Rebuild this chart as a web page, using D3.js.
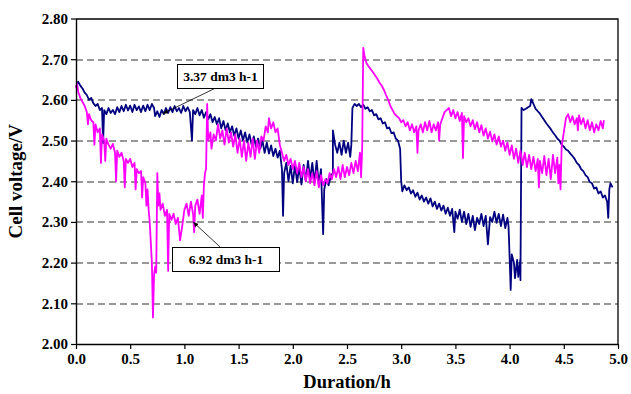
<!DOCTYPE html>
<html lang="en">
<head>
<meta charset="UTF-8">
<title>Cell voltage</title>
<script src="https://cdn.jsdelivr.net/npm/d3@7"></script>
<style>
  body { margin: 0; background: #fff; }
  text { font-family: "Liberation Serif", "Times New Roman", serif; font-weight: bold; }
</style>
</head>
<body>
<script>
// ---- data: [hours, volts] ----
var xTicks = [0, 0.5, 1, 1.5, 2, 2.5, 3, 3.5, 4, 4.5, 5];
var yTicks = [2.0, 2.1, 2.2, 2.3, 2.4, 2.5, 2.6, 2.7, 2.8];

// 3.37 dm3 h-1 (navy)
var lowFlow = [
 [0.00,2.630],[0.02,2.645],[0.04,2.635],[0.06,2.628],[0.08,2.618],[0.10,2.612],[0.12,2.600],[0.14,2.605],
 [0.16,2.592],[0.18,2.585],[0.20,2.590],[0.22,2.575],[0.24,2.580],[0.25,2.494],[0.26,2.575],[0.28,2.565],
 [0.30,2.580],[0.32,2.568],[0.34,2.575],[0.36,2.565],[0.38,2.582],[0.40,2.570],[0.42,2.585],[0.44,2.572],
 [0.46,2.588],[0.48,2.574],[0.50,2.586],[0.52,2.570],[0.54,2.588],[0.56,2.575],[0.58,2.584],[0.60,2.570],
 [0.62,2.586],[0.64,2.572],[0.66,2.588],[0.68,2.575],[0.70,2.590],[0.72,2.580],[0.73,2.560],[0.75,2.572],
 [0.77,2.558],[0.79,2.575],[0.81,2.565],[0.83,2.580],[0.85,2.568],[0.87,2.582],[0.89,2.570],[0.91,2.585],
 [0.93,2.572],[0.95,2.580],[0.97,2.568],[0.99,2.585],[1.01,2.572],[1.03,2.582],[1.05,2.570],[1.07,2.500],
 [1.08,2.575],[1.10,2.565],[1.12,2.580],[1.14,2.562],[1.16,2.575],[1.18,2.556],[1.20,2.570],[1.22,2.552],
 [1.24,2.565],[1.26,2.545],[1.28,2.558],[1.30,2.540],[1.32,2.555],[1.34,2.530],[1.36,2.548],[1.38,2.525],
 [1.40,2.542],[1.42,2.520],[1.44,2.535],[1.46,2.512],[1.48,2.530],[1.50,2.505],[1.52,2.525],[1.54,2.500],
 [1.56,2.520],[1.58,2.495],[1.60,2.515],[1.62,2.490],[1.64,2.510],[1.66,2.485],[1.68,2.505],[1.70,2.480],
 [1.72,2.500],[1.74,2.470],[1.76,2.495],[1.78,2.468],[1.80,2.488],[1.82,2.462],[1.84,2.480],[1.86,2.458],
 [1.88,2.475],[1.90,2.430],[1.91,2.315],[1.92,2.420],[1.94,2.445],[1.96,2.400],[1.98,2.438],[2.00,2.395],
 [2.02,2.440],[2.04,2.398],[2.06,2.435],[2.08,2.392],[2.10,2.440],[2.12,2.400],[2.14,2.450],[2.16,2.405],
 [2.18,2.445],[2.20,2.395],[2.22,2.450],[2.24,2.392],[2.26,2.430],[2.28,2.270],[2.29,2.380],[2.31,2.405],
 [2.33,2.390],[2.35,2.412],[2.37,2.420],[2.37,2.525],[2.39,2.490],[2.41,2.470],[2.43,2.495],[2.45,2.465],
 [2.47,2.500],[2.49,2.470],[2.51,2.495],[2.53,2.460],[2.54,2.490],[2.55,2.580],[2.57,2.590],[2.59,2.585],
 [2.61,2.590],[2.63,2.582],[2.65,2.588],[2.67,2.578],[2.69,2.582],[2.71,2.572],[2.73,2.575],[2.75,2.562],
 [2.77,2.565],[2.79,2.552],[2.81,2.555],[2.83,2.542],[2.85,2.545],[2.87,2.530],[2.89,2.532],[2.91,2.518],
 [2.93,2.520],[2.95,2.505],[2.97,2.500],[2.99,2.480],[3.00,2.400],[3.01,2.375],[3.03,2.390],[3.05,2.378],
 [3.07,2.385],[3.09,2.370],[3.11,2.378],[3.13,2.362],[3.15,2.372],[3.17,2.355],[3.19,2.365],[3.21,2.350],
 [3.23,2.360],[3.25,2.345],[3.27,2.358],[3.29,2.338],[3.31,2.350],[3.33,2.332],[3.35,2.345],[3.37,2.328],
 [3.39,2.340],[3.41,2.320],[3.43,2.335],[3.45,2.315],[3.47,2.332],[3.49,2.275],[3.50,2.325],[3.52,2.308],
 [3.54,2.330],[3.56,2.300],[3.58,2.325],[3.60,2.295],[3.62,2.320],[3.64,2.288],[3.66,2.315],[3.68,2.280],
 [3.70,2.310],[3.72,2.295],[3.74,2.320],[3.76,2.290],[3.78,2.315],[3.80,2.245],[3.82,2.312],[3.84,2.300],
 [3.86,2.325],[3.88,2.298],[3.90,2.320],[3.92,2.290],[3.94,2.318],[3.96,2.285],[3.98,2.310],[3.99,2.290],
 [4.00,2.215],[4.01,2.133],[4.02,2.220],[4.04,2.200],[4.05,2.162],[4.07,2.207],[4.08,2.165],[4.10,2.210],
 [4.10,2.157],[4.11,2.580],[4.13,2.575],[4.15,2.578],[4.17,2.582],[4.19,2.585],[4.20,2.602],[4.22,2.590],
 [4.24,2.578],[4.26,2.572],[4.28,2.566],[4.30,2.558],[4.32,2.550],[4.34,2.542],[4.36,2.535],[4.38,2.528],
 [4.40,2.520],[4.42,2.513],[4.44,2.505],[4.46,2.500],[4.48,2.490],[4.50,2.485],[4.52,2.478],[4.54,2.475],
 [4.56,2.468],[4.58,2.462],[4.60,2.455],[4.62,2.445],[4.64,2.440],[4.66,2.430],[4.68,2.425],[4.70,2.415],
 [4.72,2.410],[4.74,2.398],[4.76,2.395],[4.78,2.382],[4.80,2.385],[4.82,2.370],[4.84,2.375],[4.86,2.360],
 [4.88,2.365],[4.90,2.350],[4.91,2.310],[4.92,2.380],[4.93,2.395],[4.95,2.385]
];

// 6.92 dm3 h-1 (magenta)
var highFlow = [
 [0.00,2.630],[0.01,2.640],[0.02,2.620],[0.04,2.605],[0.06,2.595],[0.08,2.585],[0.10,2.570],[0.11,2.540],
 [0.12,2.565],[0.14,2.550],[0.16,2.545],[0.17,2.490],[0.18,2.540],[0.20,2.520],[0.22,2.530],[0.23,2.445],
 [0.24,2.515],[0.26,2.500],[0.27,2.450],[0.28,2.505],[0.30,2.490],[0.32,2.480],[0.34,2.492],[0.36,2.470],
 [0.37,2.400],[0.38,2.475],[0.40,2.460],[0.42,2.470],[0.44,2.450],[0.45,2.385],[0.46,2.455],[0.48,2.445],
 [0.50,2.455],[0.52,2.435],[0.54,2.445],[0.55,2.380],[0.56,2.430],[0.58,2.420],[0.60,2.425],[0.61,2.360],
 [0.62,2.410],[0.64,2.395],[0.65,2.340],[0.66,2.380],[0.67,2.330],[0.68,2.300],[0.69,2.250],[0.70,2.200],
 [0.71,2.065],[0.72,2.170],[0.73,2.190],[0.74,2.175],[0.75,2.420],[0.76,2.340],[0.77,2.370],[0.78,2.330],
 [0.80,2.345],[0.82,2.315],[0.84,2.330],[0.85,2.180],[0.86,2.320],[0.88,2.305],[0.90,2.320],[0.92,2.295],
 [0.94,2.310],[0.96,2.255],[0.98,2.290],[1.00,2.330],[1.02,2.345],[1.04,2.315],[1.06,2.350],[1.08,2.320],
 [1.09,2.275],[1.10,2.340],[1.12,2.355],[1.14,2.320],[1.16,2.365],[1.17,2.310],[1.18,2.390],[1.19,2.420],
 [1.20,2.430],[1.21,2.590],[1.22,2.500],[1.24,2.520],[1.25,2.480],[1.27,2.515],[1.29,2.500],[1.31,2.540],
 [1.33,2.505],[1.35,2.525],[1.37,2.490],[1.39,2.530],[1.41,2.495],[1.43,2.520],[1.45,2.485],[1.47,2.515],
 [1.49,2.470],[1.51,2.505],[1.53,2.460],[1.55,2.500],[1.57,2.450],[1.59,2.495],[1.61,2.460],[1.63,2.505],
 [1.65,2.455],[1.67,2.500],[1.69,2.470],[1.71,2.510],[1.73,2.500],[1.75,2.535],[1.77,2.520],[1.78,2.555],
 [1.80,2.530],[1.82,2.545],[1.84,2.520],[1.86,2.530],[1.88,2.490],[1.90,2.470],[1.92,2.450],[1.94,2.465],
 [1.96,2.440],[1.98,2.455],[2.00,2.430],[2.02,2.450],[2.04,2.420],[2.06,2.445],[2.08,2.410],[2.10,2.435],
 [2.12,2.400],[2.14,2.430],[2.16,2.395],[2.18,2.420],[2.20,2.390],[2.22,2.425],[2.24,2.385],[2.26,2.415],
 [2.28,2.390],[2.30,2.405],[2.32,2.395],[2.34,2.420],[2.36,2.405],[2.38,2.430],[2.40,2.410],[2.42,2.435],
 [2.44,2.405],[2.46,2.440],[2.48,2.410],[2.50,2.435],[2.52,2.415],[2.54,2.445],[2.56,2.420],[2.58,2.450],
 [2.60,2.425],[2.62,2.470],[2.63,2.410],[2.64,2.480],[2.65,2.728],[2.66,2.710],[2.68,2.690],[2.70,2.682],
 [2.72,2.675],[2.74,2.668],[2.76,2.660],[2.78,2.652],[2.80,2.642],[2.82,2.635],[2.84,2.625],[2.86,2.612],
 [2.88,2.600],[2.90,2.585],[2.92,2.575],[2.94,2.565],[2.96,2.560],[2.98,2.555],[3.00,2.545],[3.02,2.550],
 [3.04,2.535],[3.06,2.545],[3.08,2.525],[3.10,2.540],[3.12,2.520],[3.14,2.535],[3.15,2.470],[3.16,2.525],
 [3.18,2.540],[3.20,2.520],[3.22,2.545],[3.24,2.525],[3.26,2.548],[3.28,2.520],[3.30,2.540],[3.32,2.525],
 [3.34,2.545],[3.35,2.500],[3.36,2.540],[3.38,2.555],[3.40,2.570],[3.42,2.575],[3.44,2.580],[3.46,2.560],
 [3.48,2.575],[3.50,2.555],[3.52,2.570],[3.54,2.548],[3.56,2.568],[3.57,2.457],[3.58,2.560],[3.60,2.545],
 [3.62,2.555],[3.64,2.535],[3.66,2.550],[3.68,2.528],[3.70,2.545],[3.72,2.520],[3.74,2.538],[3.76,2.512],
 [3.78,2.530],[3.80,2.505],[3.82,2.522],[3.84,2.498],[3.86,2.515],[3.88,2.490],[3.90,2.510],[3.92,2.485],
 [3.94,2.500],[3.96,2.475],[3.98,2.495],[4.00,2.465],[4.02,2.488],[4.04,2.455],[4.06,2.480],[4.08,2.445],
 [4.10,2.475],[4.12,2.440],[4.14,2.470],[4.16,2.435],[4.18,2.465],[4.20,2.430],[4.22,2.460],[4.24,2.425],
 [4.26,2.455],[4.27,2.385],[4.28,2.450],[4.30,2.420],[4.32,2.462],[4.34,2.415],[4.36,2.455],[4.38,2.405],
 [4.40,2.465],[4.42,2.420],[4.44,2.458],[4.45,2.395],[4.46,2.440],[4.47,2.380],[4.48,2.485],[4.50,2.520],
 [4.52,2.555],[4.54,2.565],[4.56,2.545],[4.58,2.560],[4.60,2.540],[4.62,2.555],[4.63,2.525],[4.64,2.562],
 [4.66,2.540],[4.68,2.555],[4.70,2.530],[4.72,2.550],[4.74,2.525],[4.76,2.545],[4.78,2.520],[4.80,2.540],
 [4.82,2.525],[4.84,2.548],[4.86,2.530],[4.87,2.550]
];

// callouts: label, data point the arrow points at, box position
var notes = [
  {label: "3.37 dm3 h-1", at: [0.80, 2.566], box: [177, 64, 86, 24]},
  {label: "6.92 dm3 h-1", at: [1.08, 2.300], box: [172, 247, 107, 24]}
];

var width = 631, height = 394;
var margin = {top: 18.5, right: 13, bottom: 50, left: 76};
var iw = width - margin.left - margin.right;
var ih = height - margin.top - margin.bottom;

var svg = d3.select("body").append("svg")
    .attr("width", width)
    .attr("height", height);

svg.append("defs").append("marker")
    .attr("id", "head")
    .attr("viewBox", "0 0 10 10")
    .attr("refX", 10).attr("refY", 5)
    .attr("markerWidth", 7).attr("markerHeight", 7)
    .attr("orient", "auto")
  .append("path")
    .attr("d", "M0,1 L10,5 L0,9 z")
    .attr("fill", "#000");

var g = svg.append("g").attr("transform", "translate(" + margin.left + "," + margin.top + ")");

var x = d3.scaleLinear().domain([0, 5]).range([0, iw]);
var y = d3.scaleLinear().domain([2.0, 2.8]).range([ih, 0]);

// dashed grid
g.selectAll(".grid").data(yTicks.filter(function (d) { return d > 2.0 && d < 2.8; }))
  .enter().append("line")
    .attr("x1", 0).attr("x2", iw)
    .attr("y1", function (d) { return Math.round(y(d)) + 0.5; })
    .attr("y2", function (d) { return Math.round(y(d)) + 0.5; })
    .attr("stroke", "#333")
    .attr("stroke-width", 1.2)
    .attr("stroke-dasharray", "7,4");

// frame top/right
g.append("path")
    .attr("d", "M0,0.5 H" + iw + " V" + ih)
    .attr("fill", "none")
    .attr("stroke", "#000")
    .attr("stroke-width", 1.3);

var line = d3.line()
    .x(function (d) { return x(d[0]); })
    .y(function (d) { return y(d[1]); });

g.append("path").datum(lowFlow)
    .attr("d", line)
    .attr("fill", "none")
    .attr("stroke", "#000080")
    .attr("stroke-width", 1.8)
    .attr("stroke-linejoin", "round");

g.append("path").datum(highFlow)
    .attr("d", line)
    .attr("fill", "none")
    .attr("stroke", "#ff00ff")
    .attr("stroke-width", 1.8)
    .attr("stroke-linejoin", "round");

// axes
var xAxis = g.append("g")
    .attr("transform", "translate(0," + ih + ")")
    .call(d3.axisBottom(x).tickValues(xTicks).tickFormat(d3.format(".1f")).tickSize(5).tickSizeOuter(0));
var yAxis = g.append("g")
    .call(d3.axisLeft(y).tickValues(yTicks).tickFormat(d3.format(".2f")).tickSize(5).tickSizeOuter(0));

[xAxis, yAxis].forEach(function (a) {
  a.select(".domain").attr("stroke", "#000").attr("stroke-width", 1.4);
  a.selectAll(".tick line").attr("stroke", "#000").attr("stroke-width", 1.2);
  a.selectAll(".tick text")
      .attr("fill", "#000")
      .style("font-size", "15px")
      .style("font-family", "Liberation Serif, serif")
      .style("font-weight", "bold");
});
xAxis.selectAll(".tick text").attr("y", 20).attr("dy", 0);
yAxis.selectAll(".tick text").attr("x", -8);

// axis titles
svg.append("text")
    .attr("x", margin.left + iw / 2)
    .attr("y", 388)
    .attr("text-anchor", "middle")
    .style("font-size", "18.5px")
    .text("Duration/h");

svg.append("text")
    .attr("transform", "translate(22," + (margin.top + ih / 2) + ") rotate(-90)")
    .attr("text-anchor", "middle")
    .style("font-size", "19px")
    .text("Cell voltage/V");

// callouts
notes.forEach(function (n) {
  var bx = n.box[0], by = n.box[1], bw = n.box[2], bh = n.box[3];
  var px = x(n.at[0]) + margin.left, py = y(n.at[1]) + margin.top;
  var sx = bx + bw * 0.45, sy = py < by ? by : by + bh;
  svg.append("line")
      .attr("x1", sx).attr("y1", sy)
      .attr("x2", px).attr("y2", py)
      .attr("stroke", "#000").attr("stroke-width", 0.8)
      .attr("marker-end", "url(#head)");
  svg.append("rect")
      .attr("x", bx + 0.5).attr("y", by + 0.5)
      .attr("width", bw).attr("height", bh)
      .attr("fill", "#fff").attr("stroke", "#000").attr("stroke-width", 1);
  svg.append("text")
      .attr("x", bx + bw / 2 + 0.5).attr("y", by + bh / 2 + 5)
      .attr("text-anchor", "middle")
      .style("font-size", "13.5px")
      .text(n.label);
});
</script>
</body>
</html>
